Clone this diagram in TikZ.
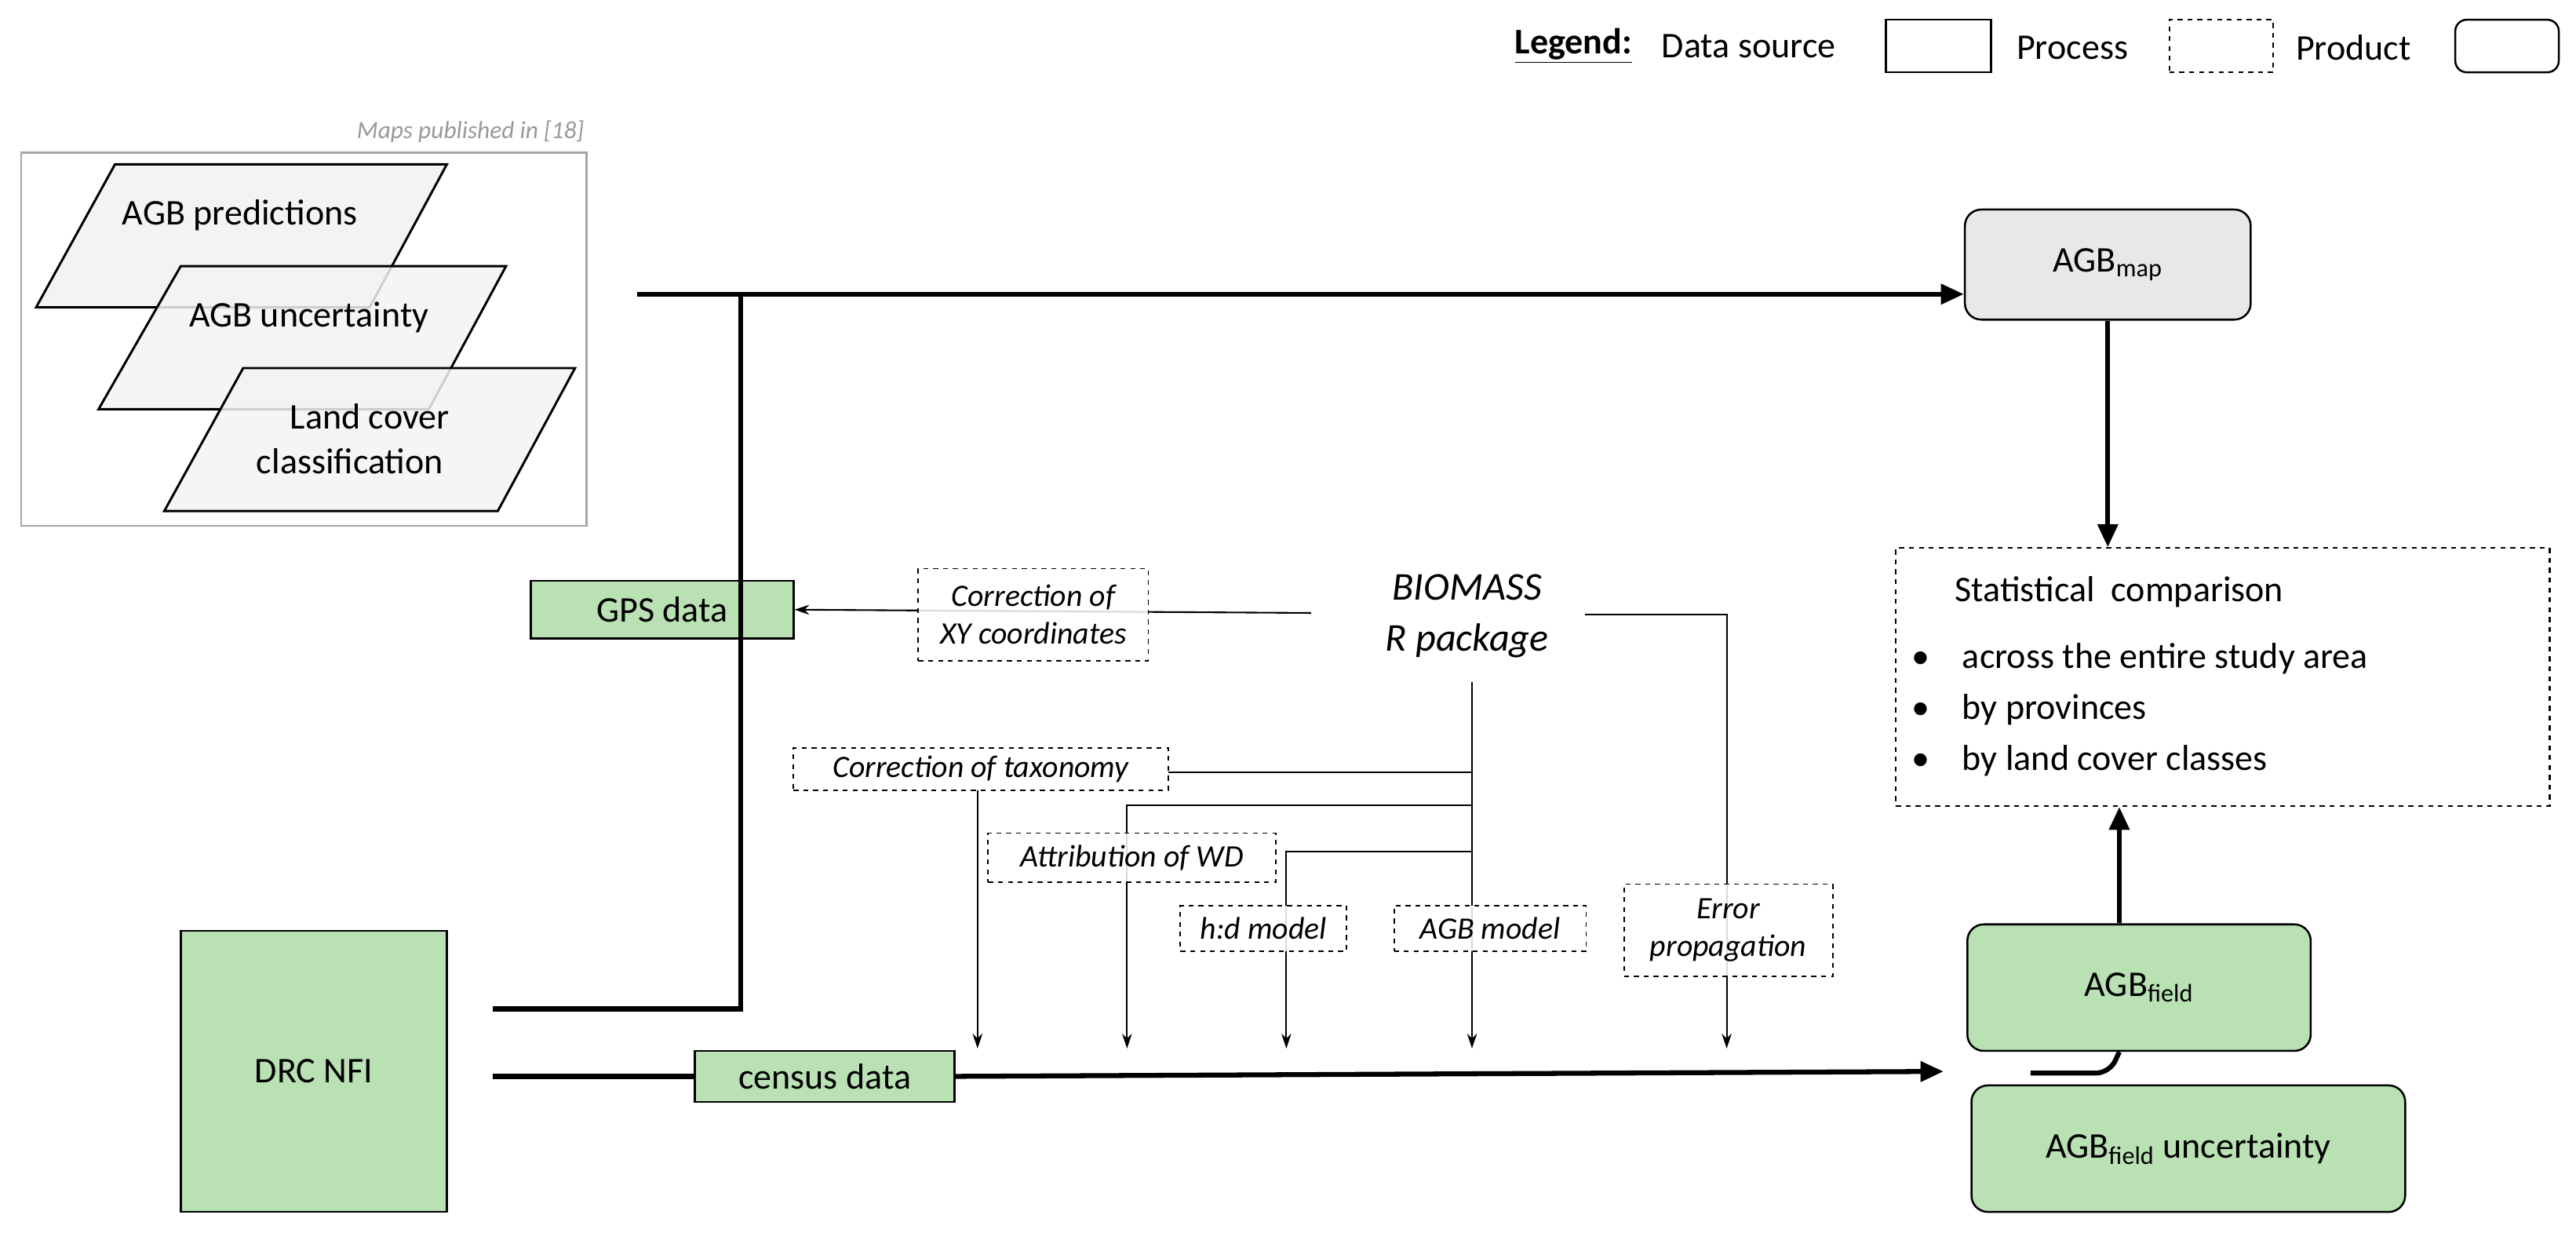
\documentclass[tikz,border=0pt]{standalone}
\usepackage{fontspec}
\setmainfont{Carlito}
\usetikzlibrary{arrows.meta}
\definecolor{grn}{HTML}{B9E1B4}
\definecolor{mapg}{HTML}{E8E8E8}
\definecolor{parg}{HTML}{F3F3F3}
\begin{document}
\begin{tikzpicture}[x=1pt,y=-1pt,
  src/.style={draw,line width=1.2pt,fill=grn,inner sep=0pt},
  prod/.style={draw,line width=1.2pt,rounded corners=10pt,inner sep=0pt},
  proc/.style={draw,dashed,line width=0.9pt,fill=white,fill opacity=0.85,text opacity=1,inner sep=3pt,font=\fontsize{19}{23}\selectfont\itshape},
  thick1/.style={line width=3pt},
  thin1/.style={line width=1pt},
  big/.style={font=\fontsize{22}{27}\selectfont},
  tip/.style={-{Triangle[length=14pt,width=12pt]}},
  stip/.style={-{Stealth[length=9pt,width=6pt]}},
  par/.style={draw,line width=1.4pt,fill=parg}]
\useasboundingbox (0,0) rectangle (1568,750);
% legend
\node[big,anchor=east,font=\fontsize{22}{27}\selectfont\bfseries] (lg) at (997,28) {\underline{Legend:}};
\node[big,anchor=west] (l1) at (1008,28) {Data source};
\node[draw,line width=1.2pt,minimum width=64pt,minimum height=32pt] (lb1) at (1180,28) {};
\node[big,anchor=west] (l2) at (1224,29) {Process};
\node[draw,dashed,line width=1pt,minimum width=63pt,minimum height=32pt] (lb2) at (1352,28) {};
\node[big,anchor=west] (l3) at (1394,29) {Product};
\node[draw,line width=1.2pt,rounded corners=7pt,minimum width=63pt,minimum height=32pt] (lb3) at (1526,28) {};
% maps group
\draw[gray!70,line width=1.2pt] (13,93) rectangle (357,320);
\node[anchor=east,text=gray!80,font=\fontsize{15}{18}\selectfont\itshape] (cap) at (359,80) {Maps published in [18]};
\draw[par] (70,100) -- (272,100) -- (225,187) -- (22,187) -- cycle;
\draw[par,fill opacity=0.85] (110,162) -- (308,162) -- (261,249) -- (60,249) -- cycle;
\draw[par,fill opacity=0.85] (148,224) -- (350,224) -- (303,311) -- (100,311) -- cycle;
\node[big] (p1) at (146,131) {AGB predictions};
\node[big] (p2) at (188,193) {AGB uncertainty};
\node[big,align=center] (p3) at (213,267) {\hspace*{24pt}Land cover\\classification};
% nodes
\node[prod,fill=mapg,minimum width=174pt,minimum height=67pt,big] (map) at (1283,161) {AGB\textsubscript{map}};
\node[draw,dashed,line width=1pt,minimum width=398pt,minimum height=157pt] (stat) at (1353,412) {};
\node[big,anchor=center] (st0) at (1290,360) {Statistical\ \ comparison};
\node[big,anchor=west,align=left] (st1) at (1160,432) {\textbullet\hspace{20pt}across the entire study area\\[4pt]\textbullet\hspace{20pt}by provinces\\[4pt]\textbullet\hspace{20pt}by land cover classes};
\node[prod,fill=grn,minimum width=209pt,minimum height=77pt,big] (fld) at (1302,601) {AGB\textsubscript{field}};
\node[prod,fill=grn,minimum width=264pt,minimum height=77pt,big] (unc) at (1332,699) {AGB\textsubscript{field} uncertainty};
\node[src,minimum width=162pt,minimum height=171pt,big] (drc) at (191,652) {DRC NFI};
\node[src,minimum width=158pt,minimum height=31pt,big] (cen) at (502,655) {census data};
\node[src,minimum width=160pt,minimum height=35pt,big] (gps) at (403,371) {GPS data};
\node[font=\fontsize{24}{29}\selectfont\itshape,align=center] (bio) at (893,375) {BIOMASS\\[2pt]R package};
% thick connectors
\coordinate (j1) at (451,179);
\coordinate (j0) at (388,179);
\coordinate (d1) at (300,614);
\coordinate (d2) at (300,655);
\coordinate (ce) at (1183,652);
\draw[thick1] (d1) -| (j1);
\draw[thick1,tip] (j0) -- (map.west |- j0);
\draw[thick1,tip] (map.south) -- (stat.north -| map.south);
\draw[thick1] (d2) -- (cen.west);
\draw[thick1,tip] (cen.east) -- (ce);
\draw[thick1,tip] (fld.north -| 1290,0) -- (stat.south -| 1290,0);
\coordinate (h0) at (1236,653);
\draw[thick1,rounded corners=8pt] (h0) -- (1284,653) -- (fld.south -| 1290,0);
% thin connectors
\coordinate (b0) at (798,373);
\coordinate (b1) at (965,374);
\coordinate (e1) at (1051,374);
\coordinate (v0) at (896,415);
\draw[thin1,stip] (b0) -- (gps.east);
\draw[thin1,stip] (b1) -- (e1) -- (1051,638);
\draw[thin1,stip] (v0) -- (896,638);
\draw[thin1] (896,470) -- (711,470);
\draw[thin1,stip] (595,481) -- (595,638);
\draw[thin1,stip] (896,490) -- (686,490) -- (686,638);
\draw[thin1,stip] (896,518) -- (783,518) -- (783,638);
% process boxes
\node[proc,minimum width=140pt,minimum height=56pt,align=center,inner sep=1pt] (xy) at (629,374) {Correction of\\XY coordinates};
\node[proc,minimum width=228pt,minimum height=26pt] (tax) at (597,468) {Correction of taxonomy};
\node[proc,minimum width=175pt,minimum height=30pt] (wd) at (689,522) {Attribution of WD};
\node[proc,minimum width=101pt,minimum height=28pt] (hd) at (769,565) {h:d model};
\node[proc,minimum width=117pt,minimum height=28pt] (agbm) at (907,565) {AGB model};
\node[proc,minimum width=127pt,minimum height=56pt,align=center,inner sep=1pt] (err) at (1052,566) {Error\\propagation};
\end{tikzpicture}
\end{document}
